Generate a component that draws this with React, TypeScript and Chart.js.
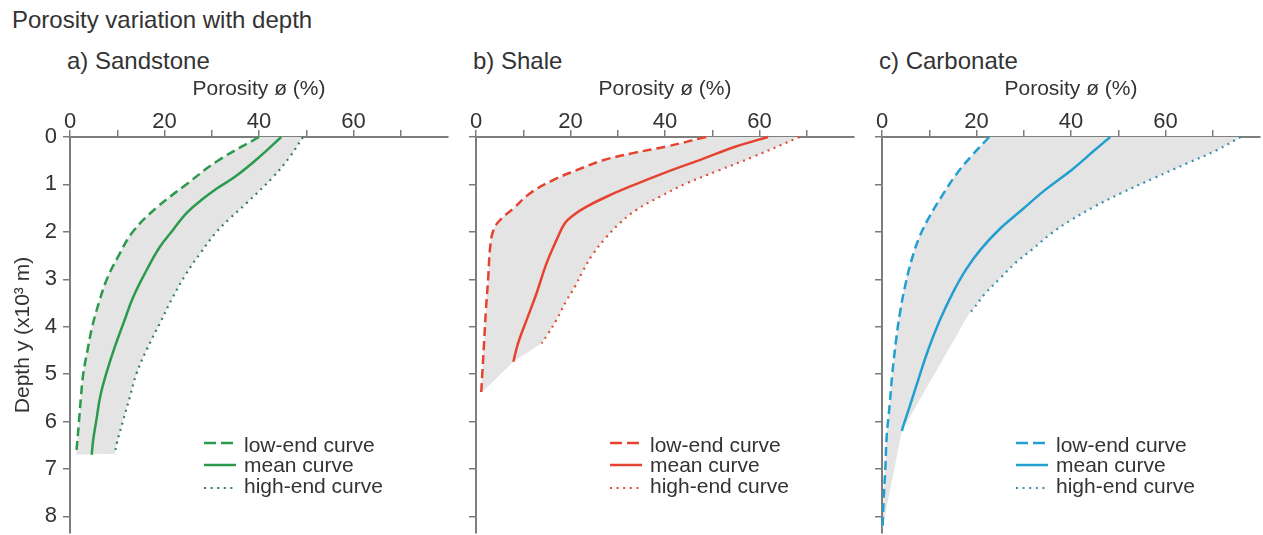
import { useEffect, useRef } from "react";
import { Chart, registerables } from "chart.js";

Chart.register(...registerables);

// ---------------- data ----------------
const X_TICKS = [0, 10, 20, 30, 40, 50, 60, 70];
const X_LABELS = [0, 20, 40, 60];
const Y_TICKS = [0, 1, 2, 3, 4, 5, 6, 7, 8];
const X_MAX = 80;
const Y_MAX = 8.35;
const SERIES_LABELS = ["low-end curve", "mean curve", "high-end curve"];

// a) Sandstone
const sandLowDepth = [0, 0.5, 1, 1.5, 2, 2.5, 3, 3.5, 4, 4.5, 5, 5.5, 6, 6.7];
const sandLowPor = [40, 31.3, 24.6, 18.2, 13.3, 10.3, 7.8, 6.1, 4.7, 3.7, 2.8, 2.3, 1.9, 1.3];
const sandMeanDepth = [0, 0.42, 0.84, 1.09, 1.33, 1.61, 1.96, 2.32, 2.81, 3.37, 3.93, 4.42, 4.98, 5.47, 5.96, 6.39, 6.7];
const sandMeanPor = [44.7, 40.1, 34.9, 31, 27.8, 24.6, 21.8, 19, 16.2, 13.4, 11.3, 9.5, 7.7, 6.4, 5.6, 4.9, 4.6];
const sandHighDepth = [0, 0.42, 0.84, 1.4, 1.72, 2, 2.46, 2.88, 3.37, 3.93, 4.49, 4.98, 5.47, 5.96, 6.46, 6.68];
const sandHighPor = [49.3, 46.5, 43, 37.3, 33.8, 31, 27.5, 24.6, 21.8, 19, 16.2, 14.1, 12.7, 11.3, 9.9, 9.5];

// b) Shale
const shaleLowDepth = [0, 0.2, 0.34, 0.49, 0.7, 0.91, 1.19, 1.51, 1.75, 1.96, 2.32, 2.95, 3.65, 4.35, 5.05, 5.4];
const shaleLowPor = [48.7, 40.3, 33.2, 26.9, 21.3, 16.3, 11.4, 7.9, 5.1, 3.7, 3, 2.6, 2.1, 1.7, 1.3, 1.1];
const shaleMeanDepth = [0, 0.2, 0.46, 0.74, 1.02, 1.26, 1.47, 1.65, 1.82, 2.18, 2.67, 3.3, 3.86, 4.35, 4.74];
const shaleMeanPor = [61.8, 55, 48, 40.3, 33.2, 27.6, 23.4, 20.6, 18.8, 17, 14.9, 12.8, 10.7, 8.9, 7.9];
const shaleHighDepth = [0, 0.42, 0.7, 0.98, 1.26, 1.54, 1.82, 2.11, 2.46, 2.81, 3.16, 3.44, 3.86, 4.14, 4.35];
const shaleHighPor = [68.5, 58.6, 51.5, 44.5, 38.9, 33.9, 30.4, 27.6, 24.8, 22.7, 20.9, 19.2, 17, 15.3, 13.9];

// c) Carbonate
const carbLowDepth = [0, 0.37, 0.79, 1.21, 1.67, 2.09, 2.58, 3.14, 3.71, 4.27, 4.97, 5.67, 6.3, 7, 7.64, 8.27];
const carbLowPor = [22.7, 19.2, 15.7, 12.9, 10.1, 8, 6.3, 4.9, 3.8, 3, 2.2, 1.6, 1, 0.7, 0.35, 0.1];
const carbMeanDepth = [0, 0.27, 0.69, 1.11, 1.53, 1.95, 2.37, 2.79, 3.28, 3.85, 4.48, 5.11, 5.67, 6.09, 6.2];
const carbMeanPor = [48.3, 45.1, 40.2, 34.6, 29.7, 24.8, 20.9, 17.8, 15, 12.3, 9.8, 7.7, 5.9, 4.5, 4.2];
const carbHighDepth = [0, 0.27, 0.55, 0.86, 1.18, 1.46, 1.74, 2.02, 2.37, 2.65, 3, 3.28, 3.64, 3.71];
const carbHighPor = [75.9, 71, 64.7, 57.7, 50.7, 45.1, 40.2, 36, 31.8, 28.3, 24.8, 22, 19.2, 18.5];

// ---------------- helpers ----------------
type Pt = { x: number; y: number };
const pts = (depth: number[], por: number[]): Pt[] => depth.map((d, i) => ({ x: por[i], y: d }));

function bandShape(low: Pt[], mean: Pt[], high: Pt[], viaMean: boolean): Pt[] {
  const lowEnd = low[low.length - 1];
  const meanEnd = mean[mean.length - 1];
  const highEnd = high[high.length - 1];
  const out: Pt[] = [...low, lowEnd];
  if (viaMean) out.push(meanEnd, meanEnd);
  out.push(highEnd, ...high.slice().reverse());
  return out;
}

const FONT = '"Liberation Sans", Arial, Helvetica, sans-serif';
const TEXT = "#333333";
const AXIS = "#7d7d7d";
const BAND = "#e4e4e4";

const curveLegend = {
  id: "curveLegend",
  afterDatasetsDraw(chart: any) {
    const { ctx, chartArea } = chart;
    const left = chartArea.left;
    const bottom = chartArea.bottom;
    const sampleY = [-90, -68, -45];
    const textY = [-81, -61, -40];
    ctx.save();
    let row = 0;
    chart.data.datasets.forEach((ds: any) => {
      if (ds.fill === "shape") return;
      const y = bottom + sampleY[row];
      ctx.beginPath();
      ctx.strokeStyle = ds.borderColor;
      ctx.lineWidth = ds.borderWidth;
      ctx.setLineDash(ds.legendDash || []);
      ctx.moveTo(left + 134, y);
      ctx.lineTo(left + 166, y);
      ctx.stroke();
      ctx.setLineDash([]);
      ctx.fillStyle = TEXT;
      ctx.font = `21px ${FONT}`;
      ctx.textAlign = "left";
      ctx.textBaseline = "alphabetic";
      ctx.fillText(ds.label, left + 174, bottom + textY[row]);
      row++;
    });
    ctx.restore();
  },
};

type PanelDef = {
  title: string;
  color: string;
  dotColor: string;
  low: Pt[];
  mean: Pt[];
  high: Pt[];
  viaMean: boolean;
  showYLabels: boolean;
  left: number;
  width: number;
  yAxisWidth: number;
  padRight: number;
  titleLeft: number;
};

const PANELS: PanelDef[] = [
  {
    title: "a) Sandstone",
    color: "#2b9a4c",
    dotColor: "#3c8052",
    low: pts(sandLowDepth, sandLowPor),
    mean: pts(sandMeanDepth, sandMeanPor),
    high: pts(sandHighDepth, sandHighPor),
    viaMean: false,
    showYLabels: true,
    left: 0,
    width: 460,
    yAxisWidth: 70,
    padRight: 12,
    titleLeft: 67,
  },
  {
    title: "b) Shale",
    color: "#e5432f",
    dotColor: "#d9503c",
    low: pts(shaleLowDepth, shaleLowPor),
    mean: pts(shaleMeanDepth, shaleMeanPor),
    high: pts(shaleHighDepth, shaleHighPor),
    viaMean: true,
    showYLabels: false,
    left: 460,
    width: 405,
    yAxisWidth: 16,
    padRight: 11,
    titleLeft: 473,
  },
  {
    title: "c) Carbonate",
    color: "#209fd0",
    dotColor: "#3c8fa8",
    low: pts(carbLowDepth, carbLowPor),
    mean: pts(carbMeanDepth, carbMeanPor),
    high: pts(carbHighDepth, carbHighPor),
    viaMean: true,
    showYLabels: false,
    left: 865,
    width: 398,
    yAxisWidth: 17,
    padRight: 3,
    titleLeft: 879,
  },
];

function Panel({ def }: { def: PanelDef }) {
  const ref = useRef<HTMLCanvasElement | null>(null);
  useEffect(() => {
    if (!ref.current) return;
    const common = { pointRadius: 0, pointHoverRadius: 0, tension: 0.4, clip: 6 };
    const chart = new Chart(ref.current, {
      type: "line",
      data: {
        datasets: [
          {
            ...common,
            label: SERIES_LABELS[0],
            data: def.low,
            borderColor: def.color,
            borderWidth: 2.5,
            borderDash: [9, 5],
            legendDash: [12, 5],
            fill: false,
          } as any,
          {
            ...common,
            label: SERIES_LABELS[1],
            data: def.mean,
            borderColor: def.color,
            borderWidth: 2.5,
            fill: false,
          } as any,
          {
            ...common,
            label: SERIES_LABELS[2],
            data: def.high,
            borderColor: def.dotColor,
            borderWidth: 2.2,
            borderDash: [2, 4.6],
            legendDash: [2, 4.6],
            fill: false,
          } as any,
          {
            ...common,
            label: "range",
            data: bandShape(def.low, def.mean, def.high, def.viaMean),
            borderColor: "rgba(0,0,0,0)",
            borderWidth: 1,
            backgroundColor: BAND,
            fill: "shape",
          } as any,
        ],
      },
      options: {
        animation: false,
        responsive: false,
        events: [],
        layout: { padding: { top: 73, bottom: 2, left: 0, right: def.padRight } },
        plugins: {
          legend: { display: false },
          tooltip: { enabled: false },
        },
        scales: {
          x: {
            type: "linear",
            position: "top",
            min: 0,
            max: X_MAX,
            afterBuildTicks: (scale: any) => {
              scale.ticks = X_TICKS.map((v) => ({ value: v }));
            },
            afterFit: (scale: any) => {
              scale.height = 64;
              scale.paddingLeft = 0;
              scale.paddingRight = 0;
              scale.paddingTop = 0;
              scale.paddingBottom = 0;
            },
            ticks: {
              autoSkip: false,
              maxRotation: 0,
              padding: -5,
              color: TEXT,
              font: { size: 22, family: FONT },
              callback: (v: any) => (X_LABELS.includes(Number(v)) ? String(v) : ""),
            },
            grid: {
              display: true,
              drawOnChartArea: false,
              drawTicks: true,
              tickLength: 7,
              color: AXIS,
              lineWidth: 1.5,
            },
            border: { display: true, color: AXIS, width: 2 },
            title: {
              display: true,
              text: "Porosity ø (%)",
              color: TEXT,
              font: { size: 21, family: FONT },
              padding: { top: 4, bottom: 0 },
            },
          },
          y: {
            type: "linear",
            reverse: true,
            min: 0,
            max: Y_MAX,
            afterBuildTicks: (scale: any) => {
              scale.ticks = Y_TICKS.map((v) => ({ value: v }));
            },
            afterFit: (scale: any) => {
              scale.width = def.yAxisWidth;
              scale.paddingLeft = 0;
              scale.paddingRight = 0;
              scale.paddingTop = 0;
              scale.paddingBottom = 0;
            },
            ticks: {
              autoSkip: false,
              padding: 6,
              color: TEXT,
              font: { size: 22, family: FONT },
              callback: (v: any) => (def.showYLabels ? String(v) : ""),
            },
            grid: {
              display: true,
              drawOnChartArea: false,
              drawTicks: true,
              tickLength: 7,
              color: AXIS,
              lineWidth: 1.5,
            },
            border: { display: true, color: AXIS, width: 2 },
            title: {
              display: def.showYLabels,
              text: "Depth y (x10³ m)",
              color: TEXT,
              font: { size: 21, family: FONT },
              padding: { top: 11, bottom: 0 },
            },
          },
        },
      } as any,
      plugins: [curveLegend],
    });
    return () => chart.destroy();
  }, [def]);

  return (
    <>
      <div
        style={{
          position: "absolute",
          left: def.titleLeft,
          top: 48.7,
          font: `24px ${FONT}`,
          lineHeight: 1,
          color: TEXT,
          whiteSpace: "nowrap",
        }}
      >
        {def.title}
      </div>
      <canvas
        ref={ref}
        width={def.width}
        height={535}
        style={{ position: "absolute", left: def.left, top: 0, width: def.width, height: 535, display: "block" }}
      />
    </>
  );
}

export default function App() {
  return (
    <div
      style={{
        position: "absolute",
        left: 0,
        top: 0,
        width: 1263,
        height: 535,
        background: "#ffffff",
        overflow: "hidden",
        fontFamily: FONT,
      }}
    >
      <div
        style={{
          position: "absolute",
          left: 12,
          top: 7.7,
          font: `24px ${FONT}`,
          lineHeight: 1,
          color: TEXT,
          whiteSpace: "nowrap",
        }}
      >
        Porosity variation with depth
      </div>
      {PANELS.map((p) => (
        <Panel key={p.title} def={p} />
      ))}
    </div>
  );
}
